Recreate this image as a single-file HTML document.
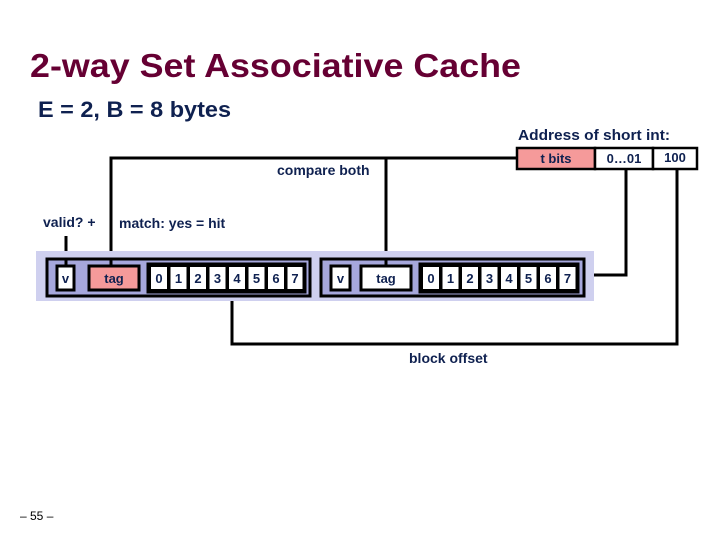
<!DOCTYPE html>
<html><head><style>
html,body{margin:0;padding:0;background:#fff;}
svg{display:block}
text{font-family:"Liberation Sans",sans-serif;}
</style></head><body>
<svg width="720" height="540" viewBox="0 0 720 540" xmlns="http://www.w3.org/2000/svg">
<text x="30" y="77" font-size="33" font-weight="bold" fill="#660033" textLength="491" lengthAdjust="spacingAndGlyphs">2-way Set Associative Cache</text>
<text x="38" y="117" font-size="22" font-weight="bold" fill="#0f2150" textLength="193" lengthAdjust="spacingAndGlyphs">E = 2, B = 8 bytes</text>
<text x="518" y="140" font-size="15" font-weight="bold" fill="#0f2150" textLength="152" lengthAdjust="spacingAndGlyphs">Address of short int:</text>
<rect x="517" y="148" width="78" height="21" fill="#f59a9a" stroke="#000" stroke-width="2.5"/>
<rect x="595" y="148" width="58" height="21" fill="#fff" stroke="#000" stroke-width="2.5"/>
<rect x="653" y="148" width="44" height="21" fill="#fff" stroke="#000" stroke-width="2.5"/>
<g font-size="13" font-weight="bold" fill="#0f2150" text-anchor="middle">
<text x="556" y="163">t bits</text><text x="624" y="163">0…01</text><text x="675" y="162">100</text>
</g>
<g stroke="#000" stroke-width="3" fill="none">
<path d="M111 266 V158 H517"/>
<path d="M386 266 V158"/>
<path d="M66 236 V266"/>
<path d="M232 296 V344 H677 V169"/>
<path d="M594 275 H626 V169"/>
</g>
<text x="277" y="175" font-size="14" font-weight="bold" fill="#0f2150">compare both</text>
<text x="43" y="227" font-size="14" font-weight="bold" fill="#0f2150">valid?  +</text>
<text x="119" y="228" font-size="14" font-weight="bold" fill="#0f2150">match: yes = hit</text>
<text x="409" y="363" font-size="14" font-weight="bold" fill="#0f2150">block offset</text>
<text x="20" y="520" font-size="12" fill="#000">– 55 –</text>
<rect x="36" y="251" width="558" height="50" fill="#cfd0ef"/>
<g stroke="#000" stroke-width="3">
<rect x="47" y="259" width="263" height="37" fill="#a6a7dc"/>
<rect x="321" y="259" width="263" height="37" fill="#a6a7dc"/>
<rect x="57" y="266" width="17" height="24" fill="#fff"/>
<rect x="89" y="266" width="50" height="24" fill="#f59a9a"/>
<rect x="331" y="266" width="19" height="24" fill="#fff"/>
<rect x="361" y="266" width="50" height="24" fill="#fff"/>
<rect x="148" y="264" width="157" height="28" fill="#000"/>
<rect x="420" y="264" width="158" height="28" fill="#000"/>
</g>
<g fill="#fff">
<rect x="151" y="267" width="16" height="22"/><rect x="170.5" y="267" width="16" height="22"/><rect x="190" y="267" width="16" height="22"/><rect x="209.5" y="267" width="16" height="22"/><rect x="229" y="267" width="16" height="22"/><rect x="248.5" y="267" width="16" height="22"/><rect x="268" y="267" width="16" height="22"/><rect x="287.5" y="267" width="15" height="22"/>
<rect x="423" y="267" width="16" height="22"/><rect x="442.5" y="267" width="16" height="22"/><rect x="462" y="267" width="16" height="22"/><rect x="481.5" y="267" width="16" height="22"/><rect x="501" y="267" width="16" height="22"/><rect x="520.5" y="267" width="16" height="22"/><rect x="540" y="267" width="16" height="22"/><rect x="559.5" y="267" width="16" height="22"/>
</g>
<g stroke="#000" stroke-width="3"><path d="M111 266 V258"/><path d="M386 266 V258"/><path d="M66 258 V266"/></g>
<g font-size="13" font-weight="bold" fill="#0f2150" text-anchor="middle">
<text x="65.5" y="283">v</text><text x="114" y="283">tag</text>
<text x="340.5" y="283">v</text><text x="386" y="283">tag</text>
<text x="159" y="283">0</text><text x="178.5" y="283">1</text><text x="198" y="283">2</text><text x="217.5" y="283">3</text><text x="237" y="283">4</text><text x="256.5" y="283">5</text><text x="276" y="283">6</text><text x="295" y="283">7</text>
<text x="431" y="283">0</text><text x="450.5" y="283">1</text><text x="470" y="283">2</text><text x="489.5" y="283">3</text><text x="509" y="283">4</text><text x="528.5" y="283">5</text><text x="548" y="283">6</text><text x="567.5" y="283">7</text>
</g>
</svg>
</body></html>
